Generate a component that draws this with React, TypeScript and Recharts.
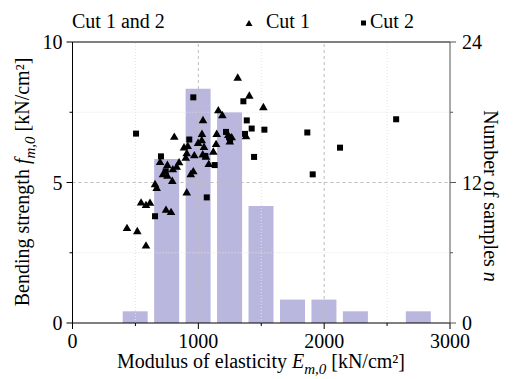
import React from 'react';
import { ComposedChart, Bar, Scatter, XAxis, YAxis, ReferenceLine, Legend } from 'recharts';

// histogram, Cut 1 and 2 together
const binCenters = [500, 750, 1000, 1250, 1500, 1750, 2000, 2250, 2500, 2750];
const binCounts = [1, 14, 20, 18, 10, 2, 2, 1, 0, 1];

// Cut 1 (triangles)
const cut1E = [1313, 1405, 1517, 1159, 1191, 1037, 809, 1029, 1146, 886, 916, 1027, 1045, 1141, 1119, 900, 968, 1035, 1083, 1238, 1265, 1379, 696, 754, 847, 828, 797, 719, 754, 793, 960, 940, 656, 669, 908, 545, 584, 616, 743, 783, 433, 515, 584, 1061, 908, 998, 1250];
const cut1F = [8.72, 8.08, 7.67, 7.56, 7.39, 7.21, 6.62, 6.72, 6.72, 6.24, 6.29, 6.5, 6.26, 6.36, 6.09, 5.87, 5.96, 5.99, 5.65, 6.68, 6.6, 6.64, 5.72, 5.62, 5.71, 5.55, 5.46, 5.29, 5.23, 5.05, 5.39, 5.29, 4.93, 4.8, 4.64, 4.28, 4.19, 4.27, 4.02, 3.94, 3.37, 3.26, 2.75, 5.91, 6.03, 6.4, 6.45];

// Cut 2 (squares)
const cut2E = [505, 960, 1358, 1385, 1424, 1525, 1371, 1443, 1220, 1252, 1244, 928, 1056, 1130, 703, 741, 1067, 656, 1866, 2126, 1909, 2572];
const cut2F = [6.74, 8.03, 7.89, 7.21, 6.92, 6.88, 6.73, 5.91, 6.8, 6.5, 6.61, 6.53, 5.94, 5.62, 5.93, 5.4, 4.47, 3.8, 6.78, 6.24, 5.29, 7.25];

const xTicks = [0, 500, 1000, 1500, 2000, 2500, 3000];
const xLabels = [0, 1000, 2000, 3000];
const leftTicks = [0, 2.5, 5, 7.5, 10];
const leftLabels = [0, 5, 10];
const rightTicks = [0, 6, 12, 18, 24];
const rightLabels = [0, 12, 24];
const majorGridX = [1000, 2000];
const minorGridX = [500, 1500, 2500];
const majorGridY = [5];
const minorGridY = [2.5, 7.5];

const histData = binCenters.map((x, i) => ({ x, n: binCounts[i] }));
const cut1Data = cut1E.map((x, i) => ({ x, y: cut1F[i] }));
const cut2Data = cut2E.map((x, i) => ({ x, y: cut2F[i] }));

const FONT = "'Liberation Serif', 'Times New Roman', serif";
const txtStyle = { fontFamily: FONT, fontSize: 20, fill: '#000' };

const makeTick = (side: 'left' | 'right' | 'bottom', labels: number[]) => (props: any) => {
  const { x, y, payload } = props;
  const v = payload.value;
  const major = labels.includes(v);
  const len = major ? 6 : 3;
  if (side === 'bottom') {
    const ay = y - 11;
    return (
      <g>
        <line x1={x} x2={x} y1={ay} y2={ay + len} stroke="#000" />
        {major && <text x={x} y={y} dy="0.71em" textAnchor="middle" style={txtStyle}>{v}</text>}
      </g>
    );
  }
  if (side === 'left') {
    const ax = x + 10;
    return (
      <g>
        <line x1={ax} x2={ax - len} y1={y} y2={y} stroke="#000" />
        {major && <text x={x} y={y} dy="0.35em" textAnchor="end" style={txtStyle}>{v}</text>}
      </g>
    );
  }
  const ax = x - 12;
  return (
    <g>
      <line x1={ax} x2={ax + len} y1={y} y2={y} stroke="#555" />
      {major && <text x={x} y={y} dy="0.35em" textAnchor="start" style={txtStyle}>{v}</text>}
    </g>
  );
};

const Triangle = (props: any) => {
  const { cx, cy } = props;
  return <polygon points={`${cx},${cy - 4.6} ${cx - 4.3},${cy + 2.8} ${cx + 4.3},${cy + 2.8}`} fill="#000" />;
};

const Square = (props: any) => {
  const { cx, cy } = props;
  return <rect x={cx - 3} y={cy - 3} width={6} height={6} fill="#000" />;
};

const TopLegend = () => (
  <svg width={515} height={40}>
    <text x={72} y={28} style={txtStyle}>Cut 1 and 2</text>
    <polygon points="249,20 245.5,26 252.5,26" fill="#000" />
    <text x={266} y={28} style={txtStyle}>Cut 1</text>
    <rect x={361} y={20.5} width={5} height={5} fill="#000" />
    <text x={370} y={28} style={txtStyle}>Cut 2</text>
  </svg>
);

const XLabel = () => (
  <text x={261} y={368} textAnchor="middle" style={txtStyle}>
    Modulus of elasticity <tspan fontStyle="italic">E</tspan>
    <tspan fontStyle="italic" fontSize={15} dy={6}>m,0</tspan>
    <tspan dy={-6}> [kN/cm²]</tspan>
  </text>
);

const YLabel = () => (
  <text x={29} y={182} transform="rotate(-90 29 182)" textAnchor="middle" style={txtStyle}>
    Bending strength <tspan fontStyle="italic">f</tspan>
    <tspan fontStyle="italic" fontSize={15} dy={6}>m,0</tspan>
    <tspan dy={-6}> [kN/cm²]</tspan>
  </text>
);

const RLabel = () => (
  <text x={484} y={196} transform="rotate(90 484 196)" textAnchor="middle" style={txtStyle}>
    Number of samples <tspan fontStyle="italic">n</tspan>
  </text>
);

export default function App() {
  return (
    <div style={{ position: 'absolute', left: 0, top: 0, background: '#fff' }}>
      <ComposedChart
        width={515}
        height={379}
        data={histData}
        margin={{ top: 42, right: 15, bottom: 16, left: 10 }}
      >
        <XAxis
          dataKey="x"
          type="number"
          domain={[0, 3000]}
          ticks={xTicks}
          tick={makeTick('bottom', xLabels)}
          tickLine={false}
          tickSize={6}
          tickMargin={5}
          height={40}
          stroke="#000"
          interval={0}
          label={{ content: () => <XLabel /> }}
        />
        <XAxis xAxisId="pts" dataKey="x" type="number" domain={[0, 3000]} hide />
        <YAxis
          yAxisId="left"
          dataKey="y"
          type="number"
          domain={[0, 10]}
          ticks={leftTicks}
          tick={makeTick('left', leftLabels)}
          tickLine={false}
          tickSize={6}
          tickMargin={4}
          width={62.5}
          stroke="#000"
          interval={0}
          label={{ content: () => <YLabel /> }}
        />
        <YAxis
          yAxisId="right"
          orientation="right"
          type="number"
          domain={[0, 24]}
          ticks={rightTicks}
          tick={makeTick('right', rightLabels)}
          tickLine={false}
          tickSize={6}
          tickMargin={6}
          width={50}
          stroke="#555"
          interval={0}
          label={{ content: () => <RLabel /> }}
        />
        {minorGridY.map((v) => (
          <ReferenceLine key={`my${v}`} yAxisId="left" y={v} stroke="#e2e2e2" strokeDasharray="1 2" />
        ))}
        {majorGridY.map((v) => (
          <ReferenceLine key={`My${v}`} yAxisId="left" y={v} stroke="#bdbdbd" strokeDasharray="3 3" />
        ))}
        {minorGridX.map((v) => (
          <ReferenceLine key={`mx${v}`} yAxisId="left" x={v} stroke="#e2e2e2" strokeDasharray="1 2" />
        ))}
        {majorGridX.map((v) => (
          <ReferenceLine key={`Mx${v}`} yAxisId="left" x={v} stroke="#bdbdbd" strokeDasharray="3 3" />
        ))}
        <ReferenceLine yAxisId="left" y={10} stroke="#000" />
        <Bar
          yAxisId="right"
          dataKey="n"
          barSize={25}
          fill="#a9a5d6"
          fillOpacity={0.8}
          isAnimationActive={false}
        />
        <Scatter
          name="Cut 1"
          xAxisId="pts"
          yAxisId="left"
          data={cut1Data}
          dataKey="y"
          shape={<Triangle />}
          isAnimationActive={false}
        />
        <Scatter
          name="Cut 2"
          xAxisId="pts"
          yAxisId="left"
          data={cut2Data}
          dataKey="y"
          shape={<Square />}
          isAnimationActive={false}
        />
        <Legend
          layout="horizontal"
          verticalAlign="middle"
          align="center"
          wrapperStyle={{ top: 0, left: 0, width: 515, height: 40 }}
          content={() => <TopLegend />}
        />
      </ComposedChart>
    </div>
  );
}
